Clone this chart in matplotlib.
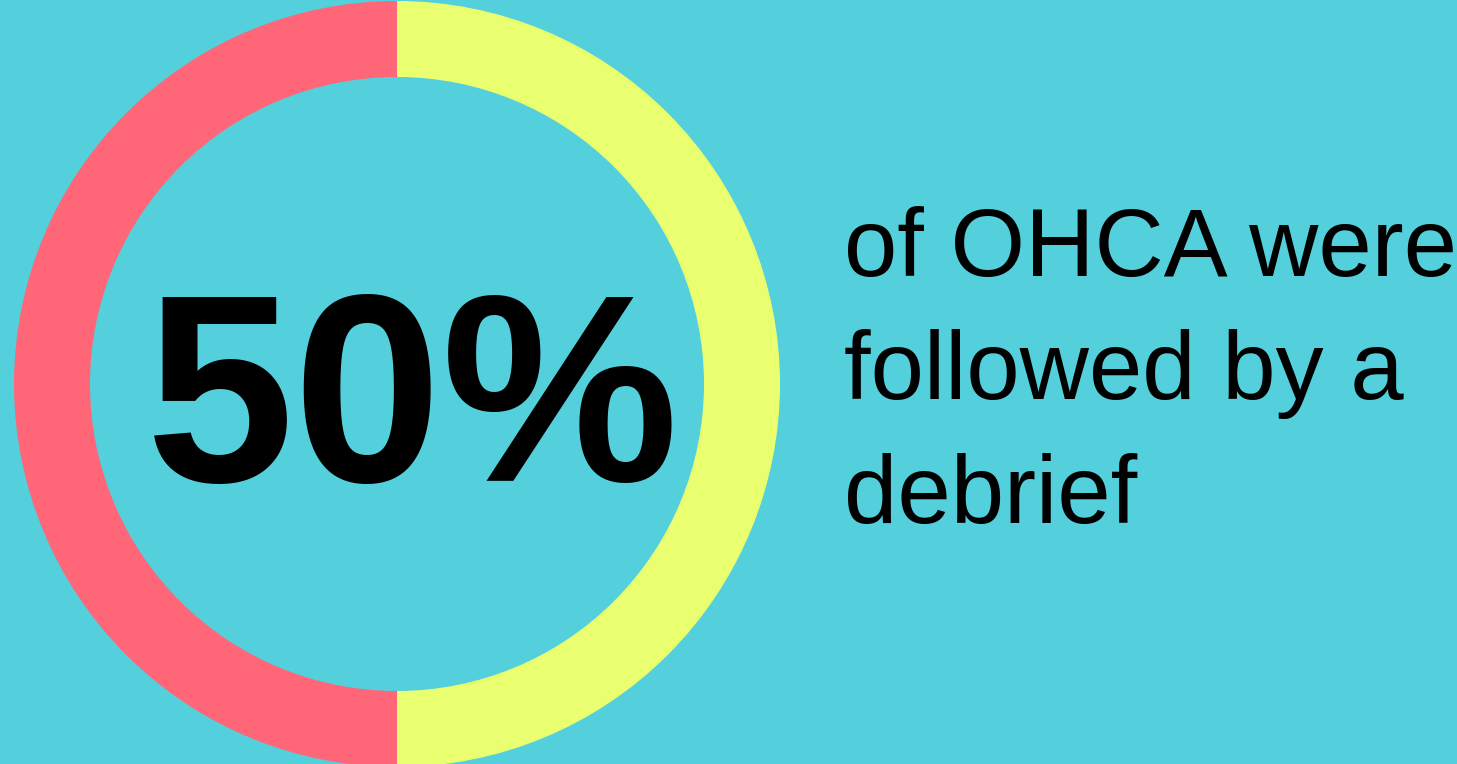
import matplotlib
matplotlib.use('Agg')
import matplotlib.pyplot as plt

# share of OHCA followed by a debrief
labels = ['No debrief', 'Debrief']
values = [50, 50]
colors = ['#FF6678', '#E9FF70']
headline = '50%'
caption_lines = ['of OHCA were', 'followed by a', 'debrief']

bg = '#53D0DC'
W, H = 1457, 764

fig = plt.figure(figsize=(W / 100, H / 100), dpi=100, facecolor=bg)
ax = fig.add_axes([0, 0, 1, 1])
ax.set_facecolor(bg)

cx, cy = 397, H - 384
ax.pie(values, colors=colors, startangle=90, counterclock=True,
       center=(cx, cy), radius=383,
       wedgeprops=dict(width=76, edgecolor='none', linewidth=0))

ax.set_xlim(0, W)
ax.set_ylim(0, H)
ax.set_aspect('equal')
ax.axis('off')

ax.text(413, H - 481, headline, ha='center', va='baseline',
        fontsize=192, fontweight='bold', family='Liberation Sans', color='black')

baselines = [276, 399, 523]
for line, b in zip(caption_lines, baselines):
    ax.text(844, H - b, line, ha='left', va='baseline',
            fontsize=69, family='Liberation Sans', color='black')

fig.savefig('out.png', dpi=100, facecolor=bg)
